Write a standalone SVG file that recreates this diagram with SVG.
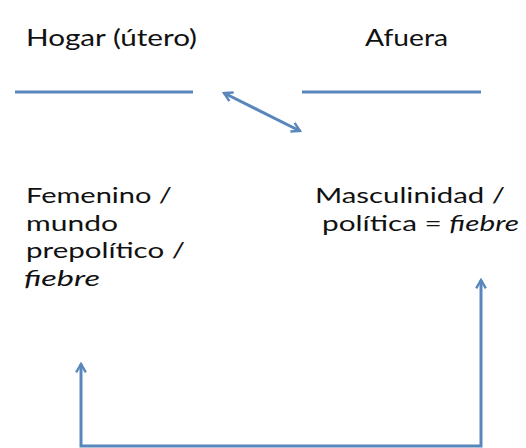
<svg xmlns="http://www.w3.org/2000/svg" width="526" height="448" viewBox="0 0 526 448">
<style>
text{font-family:Lato,"Liberation Sans",sans-serif;font-size:22px;fill:#111}
.t{font-size:24px}
.l{stroke:#5a87bb;stroke-width:3;fill:none}
</style>
<defs>
<marker id="ah" viewBox="0 0 10 10" refX="8" refY="5" markerWidth="4" markerHeight="4" orient="auto-start-reverse" markerUnits="strokeWidth">
<path d="M1,1 L8,5 L1,9" fill="none" stroke="#5a87bb" stroke-width="2"/>
</marker>
</defs>
<rect width="526" height="448" fill="#fff"/>
<g id="hogar"><text class="t" x="26" y="46" textLength="171" lengthAdjust="spacingAndGlyphs">Hogar (útero)</text></g>
<g id="afuera"><text class="t" x="365" y="46" textLength="83" lengthAdjust="spacingAndGlyphs">Afuera</text></g>
<g id="linea-hogar"><line class="l" x1="15" y1="92" x2="193" y2="92"/></g>
<g id="linea-afuera"><line class="l" x1="302" y1="92" x2="481" y2="92"/></g>
<g id="femenino">
<text x="26" y="203" textLength="146" lengthAdjust="spacingAndGlyphs">Femenino /</text>
<text x="26" y="231" textLength="92" lengthAdjust="spacingAndGlyphs">mundo</text>
<text x="26" y="258" textLength="159" lengthAdjust="spacingAndGlyphs">prepolítico /</text>
<text x="24" y="286" font-style="italic" textLength="76" lengthAdjust="spacingAndGlyphs">fiebre</text>
</g>
<g id="masculinidad">
<text x="315" y="203" textLength="190" lengthAdjust="spacingAndGlyphs">Masculinidad /</text>
<text x="322" y="231" textLength="197" lengthAdjust="spacingAndGlyphs">política = <tspan font-style="italic">fiebre</tspan></text>
</g>
<g id="connectors">
<line class="l" x1="224" y1="93" x2="300" y2="131" marker-start="url(#ah)" marker-end="url(#ah)"/>
<polyline class="l" points="81,364 81,446 481,446 481,280" marker-start="url(#ah)" marker-end="url(#ah)"/>
</g>
</svg>
